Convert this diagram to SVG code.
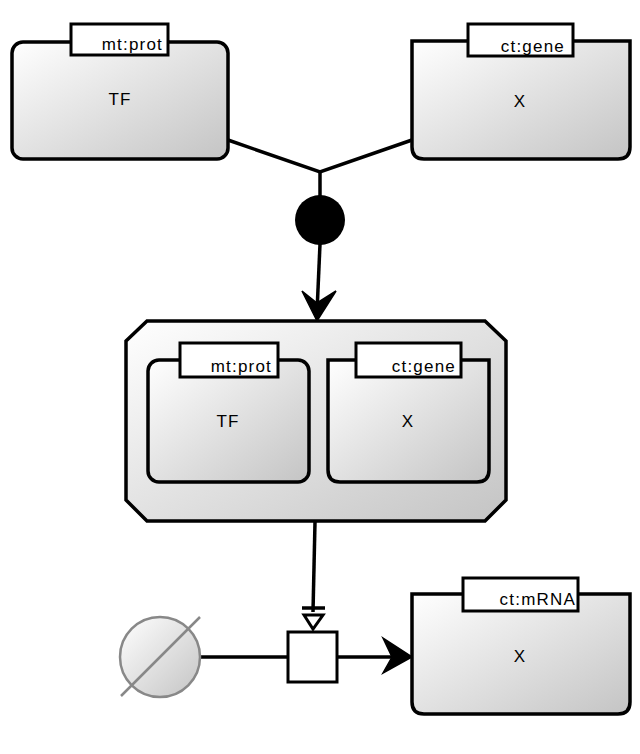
<svg xmlns="http://www.w3.org/2000/svg" width="640" height="754" viewBox="0 0 640 754">
  <defs>
    <linearGradient id="shade" x1="0" y1="0" x2="1" y2="1">
      <stop offset="0" stop-color="#ffffff"/>
      <stop offset="1" stop-color="#c4c4c4"/>
    </linearGradient>
  </defs>
  <style>
    .node { fill: url(#shade); stroke: #000; stroke-width: 3.5; }
    .uoi { fill: #fff; stroke: #000; stroke-width: 3; }
    .lbl { font-family: "Liberation Sans", Arial, sans-serif; font-size: 17px; letter-spacing: 1px; fill: #000; text-anchor: middle; }
    .uoit { font-family: "Liberation Sans", Arial, sans-serif; font-size: 17px; letter-spacing: 1.2px; fill: #000; text-anchor: end; }
    .edge { fill: none; stroke: #000; stroke-width: 3.5; }
  </style>

  <!-- connectors -->
  <g id="connectors">
    <path class="edge" d="M228,140 L320,172 L412,140"/>
    <path class="edge" d="M320,172 L320,200"/>
    <path class="edge" d="M320,244 L317,312"/>
    <path d="M317,321 L302,291 L317,303 L336,291 Z" fill="#000" stroke="#000" stroke-width="1.5" stroke-linejoin="miter"/>
    <path class="edge" d="M315,522 L313,612"/>
    <path d="M302,608 L325,608" stroke="#000" stroke-width="3.5"/>
    <path d="M304,615 L313,629 L323,615 Z" fill="#fff" stroke="#000" stroke-width="3"/>
    <path class="edge" d="M200,657 L287,657"/>
    <path class="edge" d="M337,657 L400,657"/>
    <path d="M412,657 L383,638 L392,657 L383,673 Z" fill="#000" stroke="#000" stroke-width="1.5"/>
  </g>

  <!-- association -->
  <g id="association">
    <circle cx="320" cy="220" r="25" fill="#000"/>
  </g>

  <!-- macromolecule TF -->
  <g id="tf">
    <rect class="node" x="12" y="42" width="216" height="117" rx="11"/>
    <rect class="uoi" x="71" y="24" width="97" height="31"/>
    <text class="uoit" x="163" y="50">mt:prot</text>
    <text class="lbl" x="120" y="104.5">TF</text>
  </g>

  <!-- nucleic acid feature X (gene) -->
  <g id="gene">
    <path class="node" d="M412,41 L630,41 L630,147 Q630,159 618,159 L424,159 Q412,159 412,147 Z"/>
    <rect class="uoi" x="468" y="24" width="105" height="32"/>
    <text class="uoit" x="565" y="51.5">ct:gene</text>
    <text class="lbl" x="520" y="107">X</text>
  </g>

  <!-- complex -->
  <g id="complex">
    <path class="node" d="M147,321 L485,321 L506,341 L506,500 L485,521 L147,521 L126,500 L126,341 Z"/>
    <g id="complex-tf">
      <rect class="node" x="148" y="360" width="161" height="122" rx="11"/>
      <rect class="uoi" x="180" y="343" width="98" height="34"/>
      <text class="uoit" x="272" y="371.5">mt:prot</text>
      <text class="lbl" x="228" y="427">TF</text>
    </g>
    <g id="complex-gene">
      <path class="node" d="M328,360 L489,360 L489,470 Q489,482 477,482 L340,482 Q328,482 328,470 Z"/>
      <rect class="uoi" x="356" y="343" width="105" height="34"/>
      <text class="uoit" x="456" y="371.5">ct:gene</text>
      <text class="lbl" x="408" y="427">X</text>
    </g>
  </g>

  <!-- source / empty set -->
  <g id="source">
    <circle cx="160" cy="657" r="40" fill="url(#shade)" stroke="#888" stroke-width="2.5"/>
    <path d="M121,696 L200,617" stroke="#888" stroke-width="2.5"/>
  </g>

  <!-- process -->
  <g id="process">
    <rect x="288" y="632" width="49" height="50" fill="#fff" stroke="#000" stroke-width="3"/>
  </g>

  <!-- nucleic acid feature X (mRNA) -->
  <g id="mrna">
    <path class="node" d="M412,594 L630,594 L630,702 Q630,714 618,714 L424,714 Q412,714 412,702 Z"/>
    <rect class="uoi" x="463" y="578" width="115" height="33"/>
    <text class="uoit" x="576" y="605">ct:mRNA</text>
    <text class="lbl" x="520" y="662">X</text>
  </g>
</svg>
